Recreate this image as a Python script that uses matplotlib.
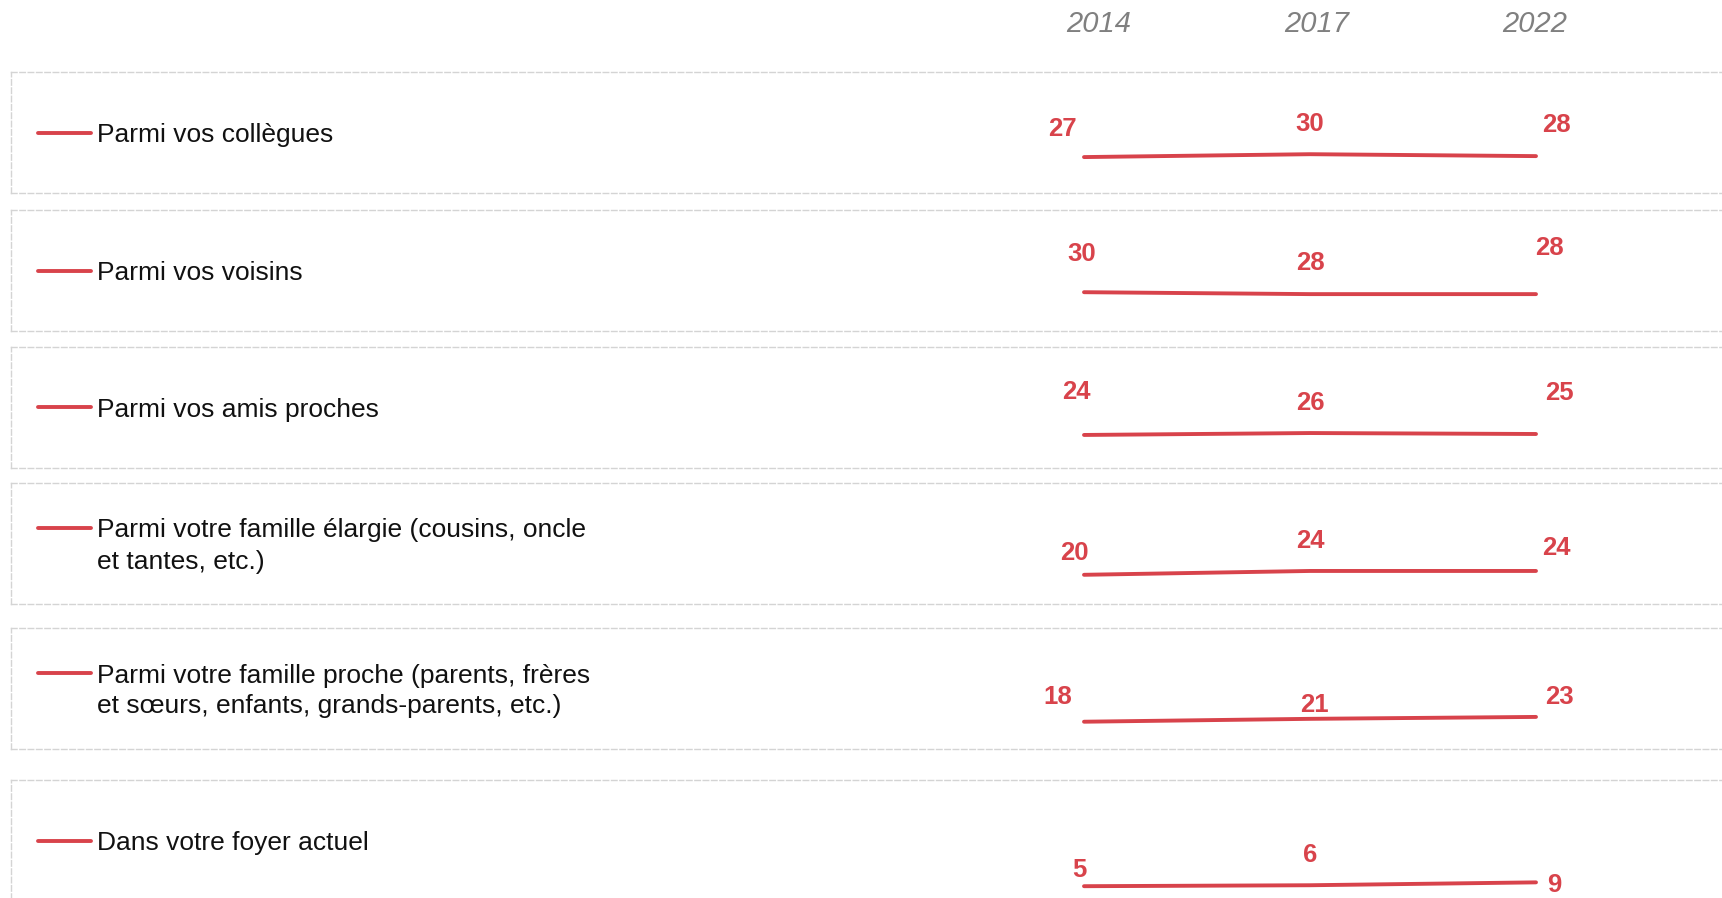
import numpy as np
import matplotlib.pyplot as plt
from matplotlib.lines import Line2D

plt.rcParams['font.family'] = ['Liberation Sans', 'DejaVu Sans']

# data
years = ['2014', '2017', '2022']
labels = ['Parmi vos collègues',
          'Parmi vos voisins',
          'Parmi vos amis proches',
          'Parmi votre famille élargie (cousins, oncle\net tantes, etc.)',
          'Parmi votre famille proche (parents, frères\net sœurs, enfants, grands-parents, etc.)',
          'Dans votre foyer actuel']
collegues = [27, 30, 28]
voisins = [30, 28, 28]
amis = [24, 26, 25]
famille_elargie = [20, 24, 24]
famille_proche = [18, 21, 23]
foyer = [5, 6, 9]
series = [collegues, voisins, amis, famille_elargie, famille_proche, foyer]

# value label offsets from the point, in pixels (dx, dy up)
label_off = [
    [(-22, 30), (0, 32), (20, 33)],
    [(-2, 40), (0, 33), (13, 48)],
    [(-8, 45), (0, 32), (23, 43)],
    [(-10, 24), (0, 32), (20, 25)],
    [(-26, 27), (4, 16), (23, 22)],
    [(-5, 18), (0, 32), (18, -1)],
]

W, H, DPI = 1722, 898, 100
red = '#d8434b'
grey_box = '#d4d4d4'
PT = 72 / DPI  # points per pixel

box_top = [72, 210, 347, 483, 628, 780]
box_h = 121
box_left = 11
box_right = 1800
x_first, x_last = 1084, 1536
px_per_unit = 0.96
zero_px = 10

fig = plt.figure(figsize=(W / DPI, H / DPI), dpi=DPI)

def fy(y):
    return 1 - y / H

unit = (x_last - x_first) / (len(years) - 1)
x = np.arange(len(years))

for i, vals in enumerate(series):
    top = box_top[i]
    ax = fig.add_axes([box_left / W, fy(top + box_h), (box_right - box_left) / W, box_h / H])
    ax.set_xlim(-(x_first - box_left) / unit, (len(years) - 1) + (box_right - x_last) / unit)
    ax.set_ylim(-zero_px / px_per_unit, (box_h - zero_px) / px_per_unit)
    ax.set_xticks([])
    ax.set_yticks([])
    for s in ax.spines.values():
        s.set_color(grey_box)
        s.set_linewidth(1)
        s.set_linestyle((0, (4, 2)))
    ax.plot(x, vals, color=red, lw=2.8, solid_capstyle='round', solid_joinstyle='round')
    for j, v in enumerate(vals):
        dx, dy = label_off[i][j]
        ax.annotate(str(v), (x[j], v), xytext=(dx * PT, (dy - 9) * PT),
                    textcoords='offset points', ha='center', va='baseline',
                    fontsize=18.5, fontweight='bold', color=red, annotation_clip=False)

    # row label with legend sample
    lines = labels[i].split('\n')
    yc = top + box_h / 2
    for k, line in enumerate(lines):
        yk = yc + (k - (len(lines) - 1) / 2) * 31
        fig.text(97 / W, fy(yk + 9.5), line, fontsize=19, color='#111111',
                 ha='left', va='baseline')
    y0 = yc - (len(lines) - 1) / 2 * 31
    fig.add_artist(Line2D([38 / W, 91 / W], [fy(y0), fy(y0)], color=red, lw=2.8,
                          solid_capstyle='round'))

# year header
year_px = [1099, 1317, 1535]
for xp, yr in zip(year_px, years):
    fig.text(xp / W, fy(22 + 10.5), yr, fontsize=21, style='italic', color='#808080',
             ha='center', va='baseline')

plt.savefig('out.png', dpi=DPI)
